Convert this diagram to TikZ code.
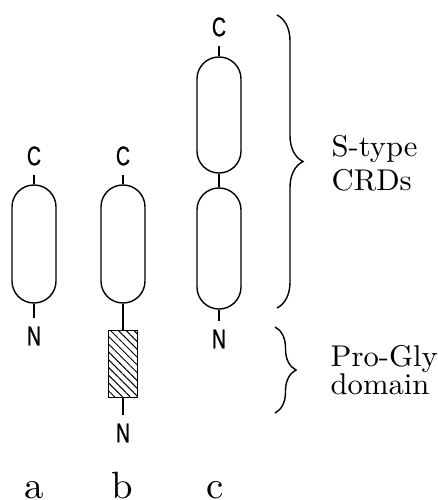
\documentclass[tikz,border=0pt]{standalone}
\usepackage{fontspec}
\newfontfamily\termfont[FakeStretch=0.72,FakeBold=0.8]{Liberation Sans}
\newfontfamily\notefont[Extension=.otf,FakeStretch=1.02]{lmroman10-regular}
\usetikzlibrary{positioning,patterns.meta,decorations.pathreplacing}

\tikzset{
  crd/.style={draw,rounded corners=21.9pt,minimum width=44pt,minimum height=118pt,inner sep=0pt},
  progly/.style={draw,minimum width=29pt,minimum height=67pt,inner sep=0pt,
    pattern={Lines[angle=-45,distance=5.5pt,line width=1pt]}},
  term/.style={font=\termfont\fontsize{27}{27}\selectfont,inner sep=0pt,outer sep=9pt},
  note/.style={font=\notefont\fontsize{30}{34}\selectfont,align=left,inner sep=0pt,anchor=base west},
  tag/.style={font=\notefont\fontsize{38}{38}\selectfont,inner sep=0pt,anchor=base},
  curly/.style={decorate,decoration={brace,amplitude=#1}}
}

\begin{document}
\begin{tikzpicture}[x=1pt,y=1pt,line width=1.4pt,node distance=88pt,on grid]
		\useasboundingbox (0,0) rectangle (438,500);
		% the three chains
		\node[crd](crdA) at (34,256) {};
		\node[crd](crdB)[right=89pt of crdA] {};
		\node[crd,minimum height=121pt](crdC2) at (219,251.5) {};
		\node[crd,minimum height=116pt](crdC1)[above=133.5pt of crdC2] {};
		\node[progly](pgB)[below=120pt of crdB] {};
		% termini
		\node[term](cA)[above=of crdA] {C};
		\node[term](cB)[above=of crdB] {C};
		\node[term](cC)[above=of crdC1] {C};
		\node[term](nA)[below=92pt of crdA] {N};
		\node[term](nB)[below=69pt of pgB] {N};
		\node[term](nC)[below=90.5pt of crdC2] {N};
		\draw (crdA.north) -- (cA.south) (crdA.south) -- (nA.north);
		\draw (crdB.north) -- (cB.south) (crdB.south) -- (pgB.north) (pgB.south) -- (nB.north);
		\draw (crdC1.north) -- (cC.south) (crdC1.south) -- (crdC2.north) (crdC2.south) -- (nC.north);
		% braces
		\coordinate (crdTop) at (277,485);
		\coordinate (crdBot) at (277,192);
		\coordinate (pgTop) at (275,173);
		\coordinate (pgBot) at (275,87);
		\draw[curly=26pt] (crdTop) -- (crdBot);
		\draw[curly=21pt] (pgTop) -- (pgBot);
		\node[note](crdNote) at (331,309) {S-type\\CRDs};
		\node[note,font=\notefont\fontsize{30}{28}\selectfont](pgNote) at (330,105) {Pro-Gly\\domain};
		% column tags
		\node[tag](tagA) at (34,1.5) {a};
		\node[tag](tagB) at (122,1.5) {b};
		\node[tag](tagC) at (215,1.5) {c};
\end{tikzpicture}
\end{document}
